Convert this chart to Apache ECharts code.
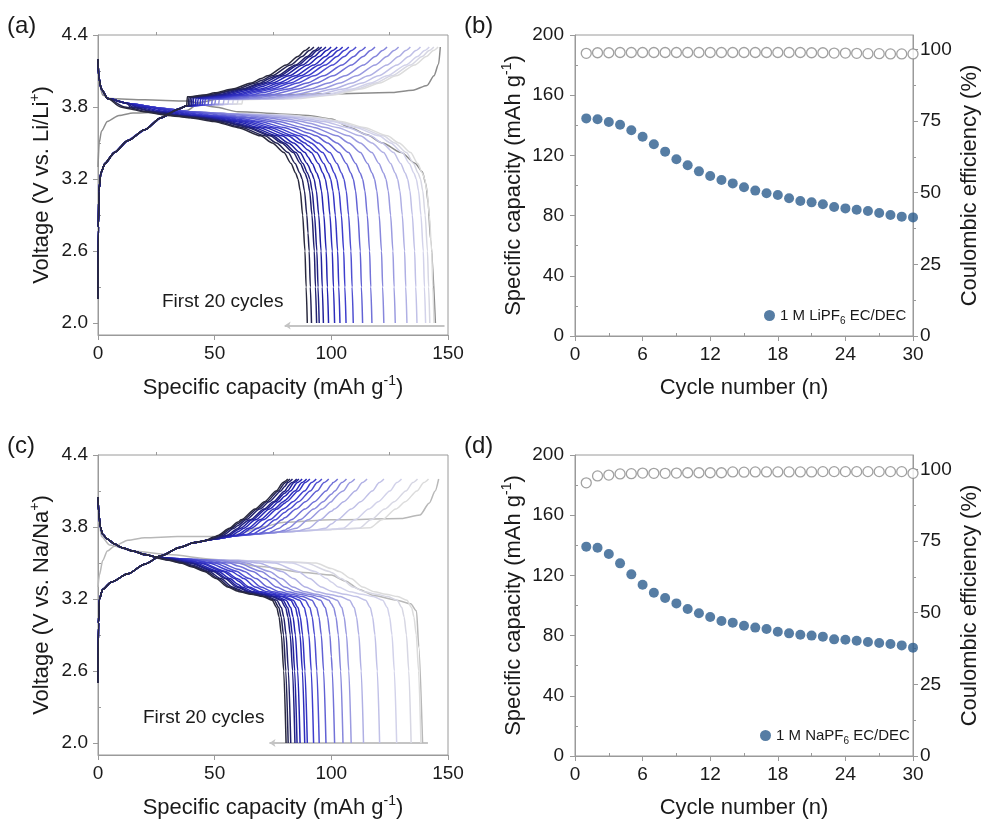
<!DOCTYPE html>
<html><head><meta charset="utf-8">
<script src="https://cdn.jsdelivr.net/npm/echarts@6/dist/echarts.min.js"></script>
<style>html,body{margin:0;padding:0;background:#fff}#c{width:1003px;height:823px}</style>
</head><body><div id="c"></div>
<script>
// ================= DATA =================
const cycles = Array.from({length: 30}, (_, i) => i + 1);
// (b) Li: discharge capacity (mAh/g) and Coulombic efficiency (%)
const capLi = [144.6,144.0,142.2,140.4,136.7,132.4,127.4,122.5,117.4,113.4,109.4,106.3,103.7,101.4,98.8,96.6,94.8,93.7,91.5,89.7,88.8,87.5,85.7,84.8,83.9,83.1,81.7,80.4,79.3,78.8];
const ceLi  = [98.6,98.8,98.8,98.9,98.9,98.9,98.9,98.9,98.9,98.9,98.9,98.9,98.9,98.9,98.9,98.9,98.9,98.9,98.9,98.9,98.8,98.8,98.7,98.7,98.6,98.5,98.5,98.4,98.4,98.4];
// (d) Na
const capNa = [139.1,138.4,134.2,128.0,120.7,113.8,108.5,105.0,101.4,97.7,94.8,92.4,89.7,88.6,86.6,85.3,84.4,82.6,81.5,80.6,80.0,79.3,77.5,77.3,76.6,75.7,75.1,74.4,73.5,72.0];
const ceNa  = [95.3,97.7,98.0,98.4,98.5,98.7,98.6,98.6,98.7,98.8,98.8,98.8,98.8,99.1,99.0,99.1,99.1,99.1,99.1,99.1,99.1,99.2,99.2,99.2,99.2,99.2,99.2,99.2,99.2,98.6];

// (a) Li voltage-profile shapes: head = [capacity, V]; tail = [distance from end capacity, V]
const liChargeHead = [[0,2.2],[0.15,2.8],[0.4,3.1],[1.2,3.25],[3,3.33],[7,3.42],[12.8,3.52],[20,3.61],[27,3.71],[34,3.78],[38,3.81],[50,3.82],[70,3.83],[150,3.84]];
const liChargeTail = [[0,4.3],[2,4.27],[5,4.22],[10,4.15],[18,4.06],[25,4.0],[33,3.95],[45,3.9],[60,3.87],[90,3.86]];
const liChargeStep = [null,62,60,58,56,54,52,50.5,49,47.5,46,45,44,43,42,41,40.3,39.6,39,38.3];
const liDischargeHead = [[0,4.2],[0.3,4.05],[1.4,3.95],[4.2,3.87],[12.8,3.83],[27,3.79],[40,3.76],[60,3.74],[90,3.73],[150,3.7]];
const liDischargeTail = [[0,2.0],[0.5,2.3],[1,2.6],[2,2.9],[3,3.1],[4,3.2],[5,3.25],[7,3.33],[10,3.42],[15,3.5],[20,3.56],[30,3.63],[40,3.68],[50,3.71],[60,3.73],[70,3.76],[80,3.8]];
// first cycle (grey): charge and discharge
const liCycle1Charge = [[0,3.3],[0.5,3.5],[1.5,3.6],[4,3.68],[9,3.73],[15,3.75],[30,3.76],[38,3.77],[44,3.84],[55,3.88],[70,3.9],[100,3.91],[125,3.92],[135,3.94],[141,3.98],[144,4.06],[146,4.16],[146.7,4.3]];
const liCycle1Discharge = [[0,4.18],[0.5,4.0],[2,3.9],[5,3.87],[20,3.86],[38,3.85],[50,3.8],[60,3.76],[90,3.73],[100,3.7],[108,3.63],[115,3.57],[122,3.5],[130,3.42],[136,3.33],[139,3.26],[140.5,3.16],[141.5,3.0],[142.5,2.7],[144.6,2.0]];
const liArrow = [[148.5,1.98],[80,1.98]];

// (c) Na voltage-profile shapes
const naChargeHead = [[0,2.5],[0.2,3.0],[0.6,3.2],[2,3.28],[5.6,3.34],[12.8,3.41],[20,3.49],[27,3.56],[35,3.63],[41.4,3.67],[50,3.7],[60,3.73],[80,3.76],[100,3.78],[150,3.82]];
const naChargeTail = [[0,4.2],[2,4.17],[5,4.1],[10,4.01],[14,3.95],[20,3.86],[25,3.79],[30,3.73],[36,3.68]];
const naDischargeHead = [[0,4.05],[0.3,3.92],[1,3.8],[2,3.74],[4,3.7],[7,3.66],[10,3.63],[15,3.6],[20,3.57],[25,3.55],[30,3.54],[40,3.53],[60,3.52],[100,3.5],[150,3.48]];
const naDischargeTail = [[0,2.0],[1,2.6],[2,2.9],[3,3.05],[4,3.13],[6,3.19],[10,3.22],[15,3.24],[20,3.26],[25,3.3],[30,3.37],[35,3.43],[45,3.5],[55,3.54]];
const naCycle1Charge = [[0,3.3],[0.6,3.4],[2,3.52],[4,3.6],[7,3.64],[12.8,3.69],[20,3.71],[34,3.72],[50,3.72],[60,3.74],[70,3.8],[80,3.84],[100,3.86],[130,3.87],[138,3.9],[142,4.0],[144.5,4.1],[146,4.2]];
const naCycle1Discharge = [[0,4.05],[0.4,3.85],[1.5,3.72],[5,3.65],[15,3.6],[30,3.57],[50,3.53],[70,3.47],[88,3.42],[100,3.4],[106,3.35],[112,3.28],[118,3.23],[128,3.19],[134,3.16],[136.5,3.1],[137.5,2.8],[139.1,2.0]];
const naArrow = [[141.4,2.0],[73.5,2.0]];

// tick labels
const vTicks = [2.0,2.6,3.2,3.8,4.4], vMinor = [2.3,2.9,3.5,4.1];
const qTicks = [0,50,100,150], qMinor = [25,75,125];
const nTicks = [0,6,12,18,24,30], nMinor = [3,9,15,21,27];
const cTicks = [0,40,80,120,160,200], cMinor = [20,60,100,140,180];
const eTicks = [0,25,50,75,100], eMinor = [12.5,37.5,62.5,87.5];

// ================= HELPERS =================
const FONT = 'Liberation Sans, Arial, sans-serif';
const TXT = '#1a1a1a', AX = '#9a9a9a';
function lerp(nodes, x) {
  if (x <= nodes[0][0]) return nodes[0][1];
  for (let i = 1; i < nodes.length; i++) {
    if (x <= nodes[i][0]) {
      const [x0, y0] = nodes[i-1], [x1, y1] = nodes[i];
      return y0 + (y1 - y0) * (x - x0) / (x1 - x0);
    }
  }
  return nodes[nodes.length-1][1];
}
function profile(head, tail, end, mode, step) {
  const dmax = tail[tail.length-1][0];
  let xs = head.map(p => p[0]).filter(x => x < end);
  tail.forEach(p => { const x = end - p[0]; if (x >= 0) xs.push(x); });
  if (step != null) xs.push(step - 0.3, step);
  xs = [...new Set(xs.map(x => +x.toFixed(3)))].sort((a, b) => a - b);
  return xs.map(x => {
    const h = lerp(head, x), d = end - x;
    if (d > dmax || (step != null && x < step)) return [x, h];
    const t = lerp(tail, d);
    return [x, mode === 'charge' ? Math.max(h, t) : Math.min(h, t)];
  });
}
const colStops = [[2,[220,220,220]],[4,[210,210,234]],[6,[176,176,228]],[9,[114,114,216]],[12,[62,62,205]],[15,[36,36,178]],[17,[32,32,132]],[19,[36,36,86]],[20,[42,42,62]]];
function cycleColor(k) {
  for (let i = 1; i < colStops.length; i++) {
    if (k <= colStops[i][0]) {
      const [k0, c0] = colStops[i-1], [k1, c1] = colStops[i];
      const f = (k - k0) / (k1 - k0);
      const c = c0.map((v, j) => Math.round(v + (c1[j] - v) * f));
      return 'rgb(' + c.join(',') + ')';
    }
  }
  return 'rgb(42,42,62)';
}

function curveSeries(name, data, color, xi, yi, z) {
  return {type: 'line', name, data, xAxisIndex: xi, yAxisIndex: yi, showSymbol: false, symbol: 'none',
    smooth: 0.25, smoothMonotone: 'x', lineStyle: {color, width: 1.5}, silent: true, z: z, animation: false};
}
function buildVoltagePanel(tag, xi, yi, caps, ces, chHead, chTail, dHead, dTail, steps, c1C, c1D, c1col, arrow) {
  const out = [];
  out.push(curveSeries(tag + 'c1C', c1C, c1col, xi, yi, 2));
  out.push(curveSeries(tag + 'c1D', c1D, c1col, xi, yi, 2));
  for (let k = 2; k <= 20; k++) {
    const dEnd = caps[k-1];
    const cEnd = caps[k-1] / ces[k-1] * 100;
    const col = cycleColor(k);
    out.push(curveSeries(tag + 'ch' + k, profile(chHead, chTail, cEnd, 'charge', steps ? steps[k-1] : null), col, xi, yi, 2 + k / 100));
    out.push(curveSeries(tag + 'dis' + k, profile(dHead, dTail, dEnd, 'discharge', null), col, xi, yi, 2 + k / 100));
  }
  out.push({type: 'lines', coordinateSystem: 'cartesian2d', xAxisIndex: xi, yAxisIndex: yi, silent: true,
    data: [{coords: arrow}], symbol: ['none', 'arrow'], symbolSize: 6,
    lineStyle: {color: '#c4c4c4', width: 2, opacity: 1}, z: 1, animation: false});
  return out;
}

function axisBase(gridIndex, min, max, ticks, extra) {
  return Object.assign({
    type: 'value', gridIndex, min, max,
    axisLine: {show: true, lineStyle: {color: AX, width: 1}},
    axisTick: {show: true, customValues: ticks, length: 5, lineStyle: {color: AX}},
    axisLabel: {show: true, customValues: ticks, fontSize: 19, fontFamily: FONT, color: TXT, margin: 9},
    splitLine: {show: false}
  }, extra || {});
}
function minorAxis(gridIndex, min, max, ticks, extra) {
  return Object.assign({
    type: 'value', gridIndex, min, max,
    axisLine: {show: false},
    axisTick: {show: true, customValues: ticks, length: 3, lineStyle: {color: AX}},
    axisLabel: {show: false},
    splitLine: {show: false}
  }, extra || {});
}
const nameStyle = {fontSize: 22, fontFamily: FONT, color: TXT, lineHeight: 28,
  rich: {sup: {fontSize: 14, fontFamily: FONT, color: TXT, verticalAlign: 'top'}}};
const capName = 'Specific capacity (mAh g{sup|-1})';

// ================= CHART =================
const chart = echarts.init(document.getElementById('c'), null, {renderer: 'canvas'});
const gridStyle = {show: true, borderColor: AX, borderWidth: 1, containLabel: false};
const vFmt = v => v.toFixed(1);

const series = [];
series.push(...buildVoltagePanel('a', 0, 0, capLi, ceLi, liChargeHead, liChargeTail, liDischargeHead, liDischargeTail, liChargeStep, liCycle1Charge, liCycle1Discharge, '#8c8c8c', liArrow));
series.push(...buildVoltagePanel('c', 4, 6, capNa, ceNa, naChargeHead, naChargeTail, naDischargeHead, naDischargeTail, null, naCycle1Charge, naCycle1Discharge, '#b8b8b8', naArrow));

function scatterPair(xi, yiL, yiR, caps, ces, label) {
  return [
    {type: 'scatter', name: label + ' CE', xAxisIndex: xi, yAxisIndex: yiR, data: cycles.map((c, i) => [c, ces[i]]),
     symbol: 'circle', symbolSize: 10, itemStyle: {color: '#ffffff', borderColor: '#8a8a8a', borderWidth: 1.3}, z: 3, animation: false},
    {type: 'scatter', name: label, xAxisIndex: xi, yAxisIndex: yiL, data: cycles.map((c, i) => [c, caps[i]]),
     symbol: 'circle', symbolSize: 10, itemStyle: {color: '#2c5d8d'}, z: 4, animation: false}
  ];
}
series.push(...scatterPair(2, 2, 4, capLi, ceLi, '1 M LiPF6 EC/DEC'));
series.push(...scatterPair(6, 8, 10, capNa, ceNa, '1 M NaPF6 EC/DEC'));

const legendText = {fontSize: 15, fontFamily: FONT, color: TXT,
  rich: {n: {fontSize: 15, fontFamily: FONT, color: TXT, lineHeight: 22}, s: {fontSize: 10, fontFamily: FONT, color: TXT, verticalAlign: 'bottom'}}};

const option = {
  backgroundColor: '#ffffff',
  animation: false,
  grid: [
    Object.assign({left: 98, top: 35, width: 350, height: 300}, gridStyle),
    Object.assign({left: 575, top: 35, width: 338, height: 301}, gridStyle),
    Object.assign({left: 98, top: 455, width: 350, height: 300}, gridStyle),
    Object.assign({left: 575, top: 455, width: 338, height: 301}, gridStyle)
  ],
  xAxis: [
    axisBase(0, 0, 150, qTicks, {name: capName, nameLocation: 'middle', nameGap: 39, nameTextStyle: nameStyle}),
    minorAxis(0, 0, 150, qMinor),
    axisBase(1, 0, 30, nTicks, {name: 'Cycle number (n)', nameLocation: 'middle', nameGap: 38, nameTextStyle: nameStyle}),
    minorAxis(1, 0, 30, nMinor),
    axisBase(2, 0, 150, qTicks, {name: capName, nameLocation: 'middle', nameGap: 39, nameTextStyle: nameStyle}),
    minorAxis(2, 0, 150, qMinor),
    axisBase(3, 0, 30, nTicks, {name: 'Cycle number (n)', nameLocation: 'middle', nameGap: 38, nameTextStyle: nameStyle}),
    minorAxis(3, 0, 30, nMinor)
  ],
  yAxis: [
    axisBase(0, 1.9, 4.4, vTicks, {name: 'Voltage (V vs. Li/Li{sup|+})', nameLocation: 'middle', nameGap: 42, nameRotate: 90, nameTextStyle: nameStyle,
      axisLabel: {show: true, customValues: vTicks, formatter: vFmt, fontSize: 19, fontFamily: FONT, color: TXT, margin: 10}}),
    minorAxis(0, 1.9, 4.4, vMinor),
    axisBase(1, 0, 200, cTicks, {name: capName, nameLocation: 'middle', nameGap: 47, nameRotate: 90, nameTextStyle: nameStyle,
      axisLabel: {show: true, customValues: cTicks, fontSize: 19, fontFamily: FONT, color: TXT, margin: 11}}),
    minorAxis(1, 0, 200, cMinor),
    axisBase(1, 0, 105, eTicks, {position: 'right', name: 'Coulombic efficiency (%)', nameLocation: 'middle', nameGap: 43, nameRotate: 90, nameTextStyle: nameStyle,
      axisLabel: {show: true, customValues: eTicks, fontSize: 19, fontFamily: FONT, color: TXT, margin: 7}}),
    minorAxis(1, 0, 105, eMinor, {position: 'right'}),
    axisBase(2, 1.9, 4.4, vTicks, {name: 'Voltage (V vs. Na/Na{sup|+})', nameLocation: 'middle', nameGap: 42, nameRotate: 90, nameTextStyle: nameStyle,
      axisLabel: {show: true, customValues: vTicks, formatter: vFmt, fontSize: 19, fontFamily: FONT, color: TXT, margin: 10}}),
    minorAxis(2, 1.9, 4.4, vMinor),
    axisBase(3, 0, 200, cTicks, {name: capName, nameLocation: 'middle', nameGap: 47, nameRotate: 90, nameTextStyle: nameStyle,
      axisLabel: {show: true, customValues: cTicks, fontSize: 19, fontFamily: FONT, color: TXT, margin: 11}}),
    minorAxis(3, 0, 200, cMinor),
    axisBase(3, 0, 105, eTicks, {position: 'right', name: 'Coulombic efficiency (%)', nameLocation: 'middle', nameGap: 43, nameRotate: 90, nameTextStyle: nameStyle,
      axisLabel: {show: true, customValues: eTicks, fontSize: 19, fontFamily: FONT, color: TXT, margin: 7}}),
    minorAxis(3, 0, 105, eMinor, {position: 'right'})
  ],
  legend: [
    {data: ['1 M LiPF6 EC/DEC'], left: 759, top: 303, icon: 'circle', itemWidth: 11, itemHeight: 11, itemGap: 0,
     formatter: () => '{n|1 M LiPF}{s|6}{n| EC/DEC}', textStyle: legendText, selectedMode: false},
    {data: ['1 M NaPF6 EC/DEC'], left: 755, top: 723, icon: 'circle', itemWidth: 11, itemHeight: 11, itemGap: 0,
     formatter: () => '{n|1 M NaPF}{s|6}{n| EC/DEC}', textStyle: legendText, selectedMode: false}
  ],
  graphic: [
    {type: 'text', left: 7, top: 14, style: {text: '(a)', font: '24px Liberation Sans', fill: TXT}},
    {type: 'text', left: 464, top: 14, style: {text: '(b)', font: '24px Liberation Sans', fill: TXT}},
    {type: 'text', left: 7, top: 434, style: {text: '(c)', font: '24px Liberation Sans', fill: TXT}},
    {type: 'text', left: 464, top: 434, style: {text: '(d)', font: '24px Liberation Sans', fill: TXT}},
    {type: 'text', left: 162, top: 292, style: {text: 'First 20 cycles', font: '19px Liberation Sans', fill: TXT}},
    {type: 'text', left: 143, top: 708, style: {text: 'First 20 cycles', font: '19px Liberation Sans', fill: TXT}}
  ],
  series
};
chart.setOption(option);
</script>
</body></html>
